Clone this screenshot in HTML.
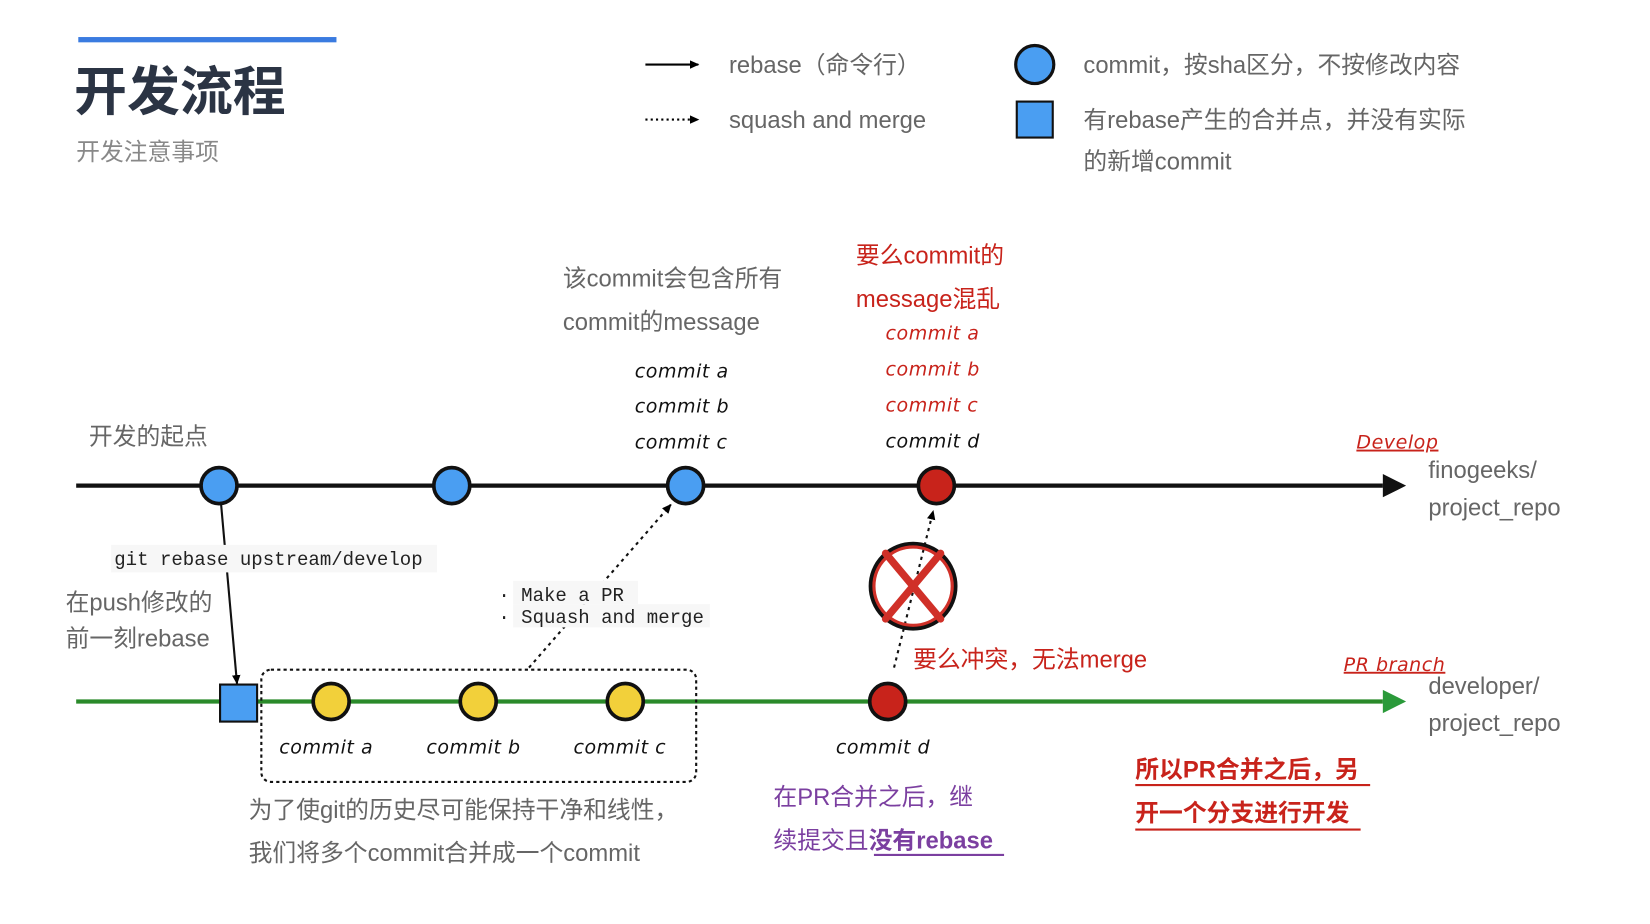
<!DOCTYPE html>
<html><head><meta charset="utf-8"><style>
html,body{margin:0;padding:0;background:#fff;width:1650px;height:924px;overflow:hidden}
svg{display:block}
.g{font-family:"Liberation Sans","Noto Sans CJK SC",sans-serif;fill:#666;font-size:22.5px}
.h{font-family:"DejaVu Sans","Liberation Sans",sans-serif;font-style:italic;font-size:18px;fill:#111;letter-spacing:0.5px}
.m{font-family:"Liberation Mono","DejaVu Sans Mono",monospace;font-size:18px;fill:#222}
.r{fill:#c8231b}
</style></head><body>
<svg width="1650" height="924" viewBox="0 0 1559.5 873.3" xmlns="http://www.w3.org/2000/svg">
<defs>
<marker id="a" markerWidth="10" markerHeight="10" refX="8" refY="5" orient="auto" markerUnits="userSpaceOnUse"><path d="M0,1 L9,5 L0,9z" fill="#000"/></marker>
</defs>
<g transform="translate(-3,-1)">
<rect x="77" y="36" width="244" height="5" fill="#3a7be0"/>
<text x="73" y="105" font-family="Liberation Sans,Noto Sans CJK SC,sans-serif" font-size="50" font-weight="bold" fill="#2b3444">开发流程</text>
<text x="75" y="152" class="g" font-size="20.5" style="fill:#888">开发注意事项</text>

<line x1="613" y1="62" x2="663" y2="62" stroke="#000" stroke-width="2" marker-end="url(#a)"/>
<text x="692" y="70" class="g">rebase（命令行）</text>
<line x1="613" y1="114" x2="663" y2="114" stroke="#000" stroke-width="2" stroke-dasharray="2,3" marker-end="url(#a)"/>
<text x="692" y="122" class="g">squash and merge</text>
<circle cx="981" cy="62" r="18" fill="#4a9ef2" stroke="#111" stroke-width="3"/>
<text x="1027" y="70" class="g">commit，按sha区分，不按修改内容</text>
<rect x="964" y="97" width="34" height="34" fill="#4a9ef2" stroke="#111" stroke-width="2"/>
<text x="1027" y="122" class="g">有rebase产生的合并点，并没有实际</text>
<text x="1027" y="161" class="g">的新增commit</text>

<line x1="75" y1="460" x2="1310" y2="460" stroke="#111" stroke-width="4"/>
<path d="M1310,449 L1332,460 L1310,471z" fill="#111"/>
<circle cx="210" cy="460" r="17" fill="#4a9ef2" stroke="#111" stroke-width="3.5"/>
<circle cx="430" cy="460" r="17" fill="#4a9ef2" stroke="#111" stroke-width="3.5"/>
<circle cx="651" cy="460" r="17" fill="#4a9ef2" stroke="#111" stroke-width="3.5"/>
<circle cx="888" cy="460" r="17" fill="#c8231b" stroke="#111" stroke-width="3.5"/>

<text x="87" y="421" class="g" font-size="21.5">开发的起点</text>
<text x="535" y="272" class="g">该commit会包含所有</text>
<text x="535" y="313" class="g">commit的message</text>
<text x="603" y="358" class="h">commit a</text>
<text x="603" y="391" class="h">commit b</text>
<text x="603" y="425" class="h">commit c</text>
<text x="812" y="250" class="g r">要么commit的</text>
<text x="812" y="291" class="g r">message混乱</text>
<text x="840" y="322" class="h r">commit a</text>
<text x="840" y="356" class="h r">commit b</text>
<text x="840" y="390" class="h r">commit c</text>
<text x="840" y="424" class="h">commit d</text>
<text x="1285" y="425" class="h r" font-size="19" text-decoration="underline">Develop</text>
<text x="1353" y="453" class="g">finogeeks/</text>
<text x="1353" y="488" class="g">project_repo</text>

<line x1="75" y1="664" x2="1310" y2="664" stroke="#2a8a2a" stroke-width="4"/>
<path d="M1310,653 L1332,664 L1310,675z" fill="#2a9a3a"/>
<rect x="250" y="634" width="411" height="106" rx="9" fill="none" stroke="#111" stroke-width="2" stroke-dasharray="3,3"/>
<rect x="211" y="648" width="35" height="35" fill="#4a9ef2" stroke="#111" stroke-width="2"/>
<circle cx="316" cy="664" r="17" fill="#f2d03a" stroke="#111" stroke-width="3.5"/>
<circle cx="455" cy="664" r="17" fill="#f2d03a" stroke="#111" stroke-width="3.5"/>
<circle cx="594" cy="664" r="17" fill="#f2d03a" stroke="#111" stroke-width="3.5"/>
<circle cx="842" cy="664" r="17" fill="#c8231b" stroke="#111" stroke-width="3.5"/>
<text x="267" y="713" class="h">commit a</text>
<text x="406" y="713" class="h">commit b</text>
<text x="545" y="713" class="h">commit c</text>
<text x="793" y="713" class="h">commit d</text>

<line x1="212" y1="478" x2="227" y2="647" stroke="#111" stroke-width="2" marker-end="url(#a)"/>
<rect x="108" y="516" width="308" height="26" fill="#f7f7f7"/>
<text x="111" y="535" class="m">git rebase upstream/develop</text>
<text x="65" y="578" class="g">在push修改的</text>
<text x="65" y="612" class="g">前一刻rebase</text>

<line x1="503" y1="632" x2="637" y2="478" stroke="#111" stroke-width="2" stroke-dasharray="3,4" marker-end="url(#a)"/>
<rect x="488" y="550" width="118" height="22" fill="#f7f7f7"/>
<rect x="488" y="572" width="186" height="22" fill="#f7f7f7"/>
<text x="474" y="569" class="m" font-size="17">· Make a PR</text>
<text x="474" y="590" class="m" font-size="17">· Squash and merge</text>

<line x1="848" y1="632" x2="885" y2="484" stroke="#111" stroke-width="2" stroke-dasharray="3,4" marker-end="url(#a)"/>
<circle cx="866" cy="555" r="40" fill="none" stroke="#111" stroke-width="4"/>
<circle cx="866" cy="555" r="37" fill="none" stroke="#d03028" stroke-width="3"/>
<path d="M840,524 L892,586 M892,524 L840,586" stroke="#d03028" stroke-width="7" stroke-linecap="round"/>
<text x="866" y="632" class="g r">要么冲突，无法merge</text>

<text x="1273" y="635" class="h r" font-size="19" text-decoration="underline">PR branch</text>
<text x="1353" y="657" class="g">developer/</text>
<text x="1353" y="692" class="g">project_repo</text>

<text x="238" y="774" class="g">为了使git的历史尽可能保持干净和线性，</text>
<text x="238" y="815" class="g">我们将多个commit合并成一个commit</text>

<text x="734" y="762" class="g" style="fill:#7b3fa0">在PR合并之后，继</text>
<text x="734" y="803" class="g" style="fill:#7b3fa0">续提交且<tspan font-weight="bold">没有rebase</tspan></text>
<line x1="829" y1="809" x2="952" y2="809" stroke="#7b3fa0" stroke-width="2"/>

<text x="1076" y="736" class="g r" font-weight="bold">所以PR合并之后，另</text>
<line x1="1076" y1="743" x2="1298" y2="743" stroke="#c8231b" stroke-width="2"/>
<text x="1076" y="777" class="g r" font-weight="bold">开一个分支进行开发</text>
<line x1="1076" y1="785" x2="1289" y2="785" stroke="#c8231b" stroke-width="2"/>
</g>
</svg>
</body></html>
